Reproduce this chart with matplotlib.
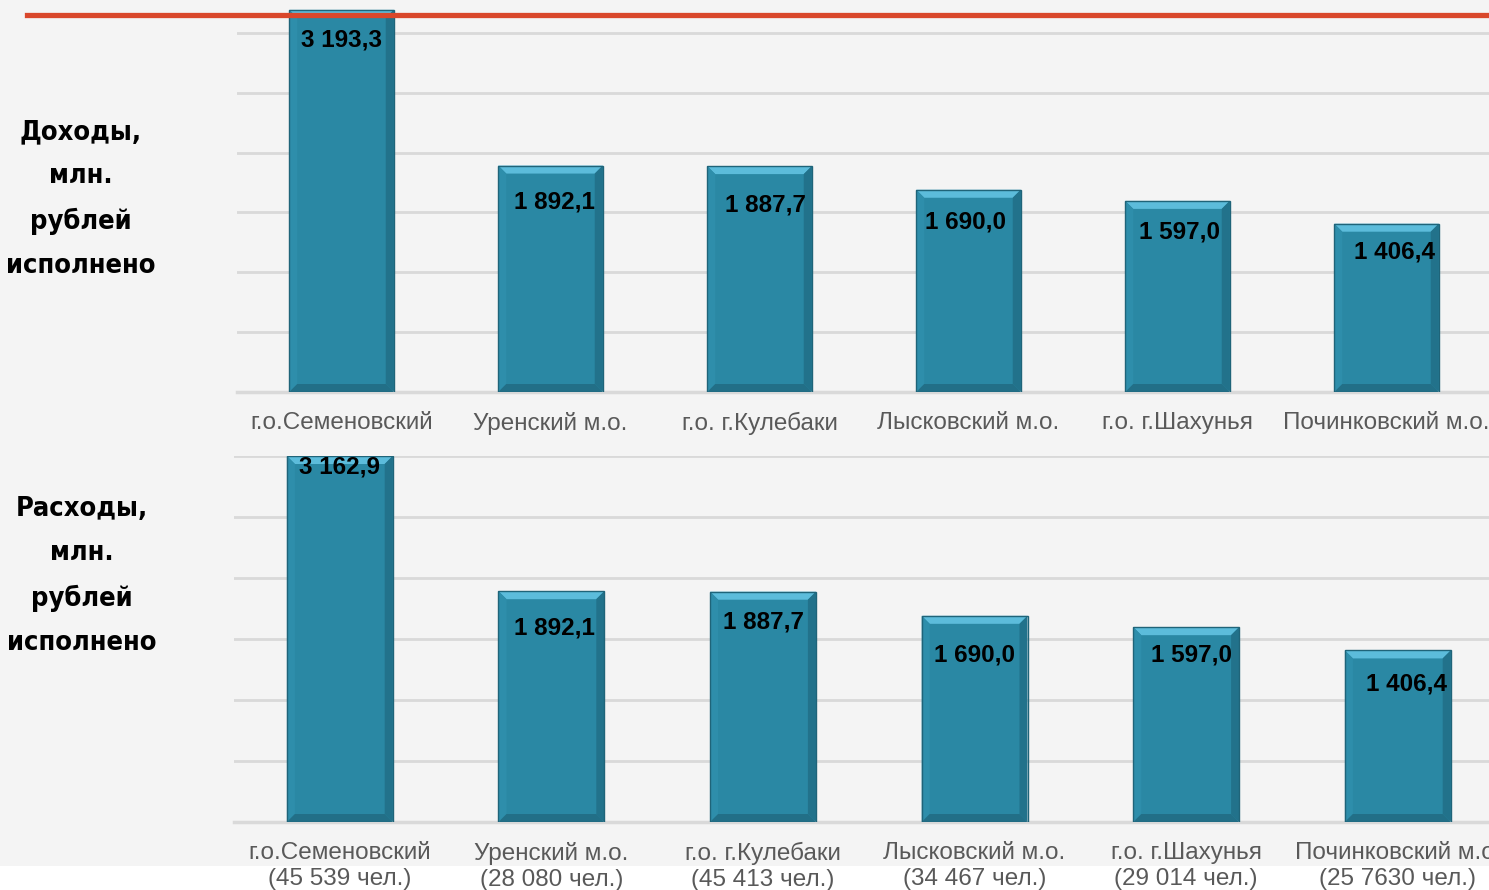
import matplotlib.pyplot as plt
from matplotlib.patches import Polygon, Rectangle
from matplotlib.transforms import IdentityTransform

# подписи муниципалитетов и численность населения
districts = ['г.о.Семеновский', 'Уренский м.о.', 'г.о. г.Кулебаки',
             'Лысковский м.о.', 'г.о. г.Шахунья', 'Починковский м.о.']
population = ['45 539', '28 080', '45 413', '34 467', '29 014', '25 7630']

income = [3193.3, 1892.1, 1887.7, 1690.0, 1597.0, 1406.4]
expenses = [3162.9, 1892.1, 1887.7, 1690.0, 1597.0, 1406.4]

# сдвиг подписей значений внутри столбцов, пиксели (dx, dy от верха столбца)
income_lbl_dx = [0, 4, 6, -3, 2, 8]
income_lbl_dy = [30, 36, 39, 32, 31, 28]
expenses_lbl_dx = [0, 3, 1, 0, 5, 9]
expenses_lbl_dy = [11, 37, 30, 39, 28, 34]

W, H, DPI = 1489, 890, 100
BG = '#f4f4f4'
BAR = '#2a88a4'
GRID = '#d9d9d9'


def fmt(v):
    s = f'{v:,.1f}'.replace(',', ' ').replace('.', ',')
    return s


def px_axes(fig, left, right, top, bottom):
    return fig.add_axes([left / W, 1 - bottom / H, (right - left) / W, (bottom - top) / H])


def bevel(ax, x, top, width, d=8):
    # объёмная рамка столбца в пикселях
    x0, y0 = ax.transData.transform((x - width / 2, 0))
    x1, y1 = ax.transData.transform((x + width / 2, top))
    tr = IdentityTransform()
    faces = [
        ([(x0, y1), (x1, y1), (x1 - d, y1 - d), (x0 + d, y1 - d)], '#5cbcdb'),
        ([(x1, y1), (x1, y0), (x1 - d, y0 + d), (x1 - d, y1 - d)], '#22728b'),
        ([(x0, y1), (x0, y0), (x0 + d, y0 + d), (x0 + d, y1 - d)], '#2e8eab'),
        ([(x0, y0), (x1, y0), (x1 - d, y0 + d), (x0 + d, y0 + d)], '#226f87'),
    ]
    for pts, c in faces:
        ax.add_patch(Polygon(pts, closed=True, facecolor=c, edgecolor='none',
                             transform=tr, zorder=3))
    ax.add_patch(Rectangle((x0, y0), x1 - x0, y1 - y0, facecolor='none',
                           edgecolor='#1f6479', linewidth=1, transform=tr, zorder=4))


def draw_panel(ax, values, ymax, labels, dx, dy):
    ax.set_facecolor('none')
    ax.set_xlim(-0.5, len(values) - 0.5)
    ax.set_ylim(0, ymax)
    ax.set_yticks(range(500, 3001, 500))
    ax.yaxis.grid(True, color=GRID, linewidth=2)
    ax.set_axisbelow(True)
    for s in ['top', 'right', 'left']:
        ax.spines[s].set_visible(False)
    ax.spines['bottom'].set_color(GRID)
    ax.spines['bottom'].set_linewidth(2.5)
    ax.tick_params(left=False, labelleft=False, bottom=False, pad=11)
    xs = range(len(values))
    ax.bar(xs, values, width=0.5, color=BAR, zorder=2, clip_on=(ymax < max(values)))
    for i, v in enumerate(values):
        top = min(v, ymax)
        bevel(ax, i, top, 0.5)
        ax.annotate(fmt(v), (i, top), xytext=(dx[i], -dy[i]), textcoords='offset pixels',
                    ha='center', va='center', fontsize=17.5, fontweight='bold',
                    color='black', zorder=5)
    ax.set_xticks(list(xs))
    ax.set_xticklabels(labels, fontsize=17.5, color='#595959', linespacing=1.22)


plt.rcParams['font.family'] = ['Liberation Sans', 'DejaVu Sans']

fig = plt.figure(figsize=(W / DPI, H / DPI), dpi=DPI, facecolor=BG)
# белая полоса внизу слайда
fig.add_artist(Rectangle((0, 0), 1, 24 / H, transform=fig.transFigure,
                         facecolor='white', edgecolor='none', zorder=0))
# красная линия сверху
fig.add_artist(plt.Line2D([27 / W, 1], [1 - 15 / H, 1 - 15 / H], color='#d9472b',
                          linewidth=3.8, zorder=1))

ax1 = px_axes(fig, 237, 237 + 6 * 209, 392 - 3200 * 0.11967, 392)
draw_panel(ax1, income, 3200, districts, income_lbl_dx, income_lbl_dy)

ax2 = px_axes(fig, 234, 234 + 6 * 211.6, 456, 822)
draw_panel(ax2, expenses, 3000,
           [f'{d}\n({p} чел.)' for d, p in zip(districts, population)],
           expenses_lbl_dx, expenses_lbl_dy)

title_kw = dict(ha='center', va='center', fontsize=19.5, fontweight='heavy',
                family='DejaVu Sans', fontstretch='condensed', linespacing=1.88)
fig.text(81 / W, 1 - 199 / H, 'Доходы,\nмлн.\nрублей\nисполнено', **title_kw)
fig.text(82 / W, 1 - 576 / H, 'Расходы,\nмлн.\nрублей\nисполнено', **title_kw)

fig.savefig('out.png', dpi=DPI, facecolor=BG)
